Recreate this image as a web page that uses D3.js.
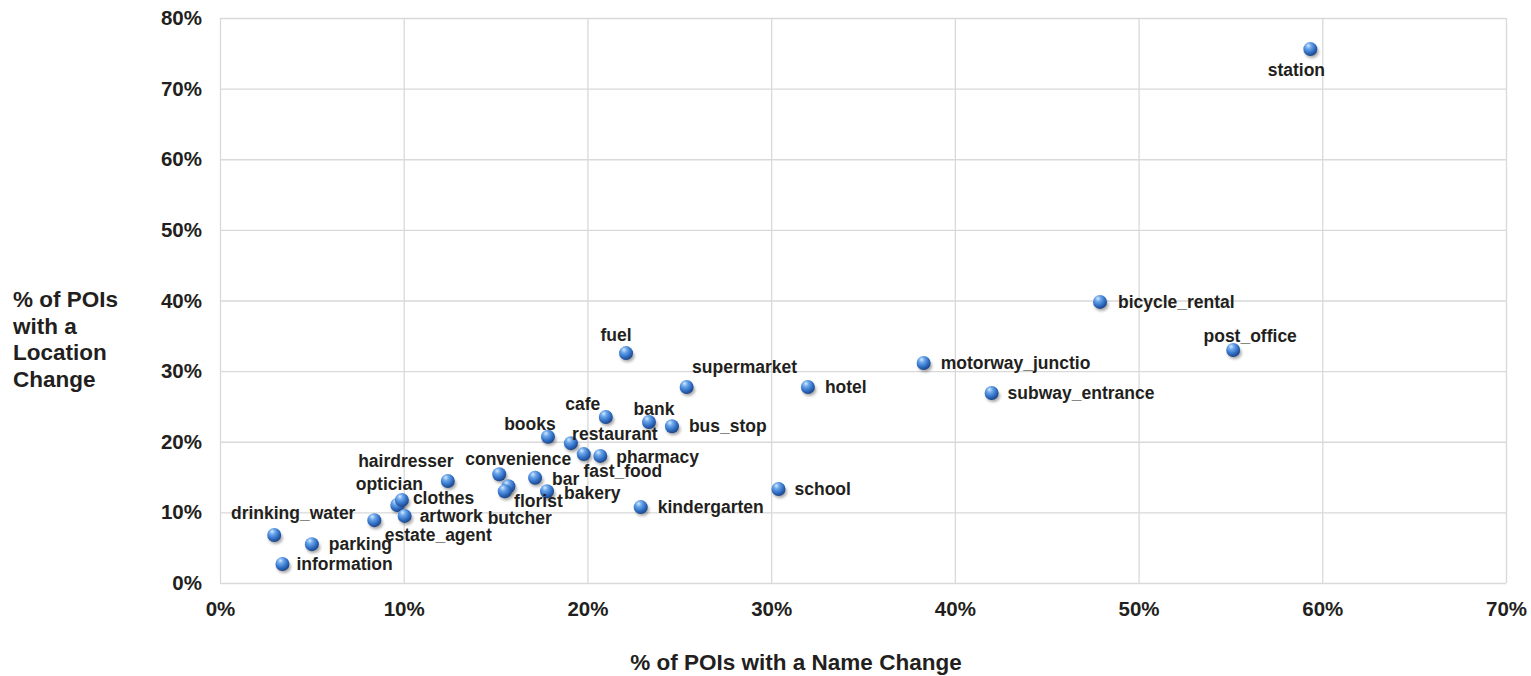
<!DOCTYPE html>
<html><head><meta charset="utf-8">
<script src="https://cdn.jsdelivr.net/npm/d3@7"></script>
<style>body{margin:0;background:#fff;} text{font-family:"Liberation Sans",Arial,sans-serif;font-weight:bold;fill:#231f20;}</style>
</head><body><svg id="c" width="1531" height="676"></svg>
<script>
const names = ["station","bicycle_rental","post_office","motorway_junctio","subway_entrance","hotel","supermarket","fuel","cafe","bank","bus_stop","books","restaurant","fast_food","pharmacy","convenience","bar","florist","butcher","bakery","kindergarten","school","hairdresser","optician","clothes","artwork","estate_agent","drinking_water","parking","information"];
const nameChange = [0.5935,0.479,0.5515,0.383,0.420,0.320,0.254,0.221,0.210,0.2335,0.246,0.1785,0.191,0.198,0.207,0.152,0.1715,0.157,0.155,0.178,0.229,0.304,0.124,0.0965,0.099,0.1005,0.084,0.0295,0.050,0.034];
const locationChange = [0.756,0.398,0.330,0.3115,0.269,0.2775,0.2775,0.3255,0.235,0.228,0.222,0.207,0.198,0.1825,0.180,0.154,0.149,0.137,0.130,0.130,0.1075,0.133,0.1445,0.1105,0.1175,0.095,0.089,0.068,0.055,0.027];
const xTicks = [0,0.1,0.2,0.3,0.4,0.5,0.6,0.7];
const yTicks = [0,0.1,0.2,0.3,0.4,0.5,0.6,0.7,0.8];
const xTitle = "% of POIs with a Name Change";
const yTitle = ["% of POIs","with a","Location","Change"];
// label placement (layout): [anchor, dx, dy]
const labelPlacement = [["middle",-14,21],["start",18,0],["middle",17,-14],["start",17,0],["start",16,0],["start",17,0],["middle",58,-20],["middle",-10,-18],["middle",-23,-13],["middle",5,-13],["start",17,0],["middle",-18,-13],["middle",44,-9],["middle",39,17],["start",16,1],["middle",19,-15],["start",17,1],["middle",30,15],["middle",15,27],["start",17,2],["start",17,0],["start",16,0],["middle",-42,-20],["middle",-8,-21],["start",11,-2],["start",15,0],["middle",64,15],["middle",19,-22],["start",17,0],["start",14,0]];

const svg = d3.select("#c");
const L=220,R=1506,T=18,B=583;
const x = d3.scaleLinear().domain([0,0.7]).range([L,R]);
const y = d3.scaleLinear().domain([0,0.8]).range([B,T]);
const fmt = d3.format(".0%");

const defs = svg.append("defs");
const g = defs.append("radialGradient").attr("id","ball").attr("cx","38%").attr("cy","32%").attr("r","70%").attr("fx","35%").attr("fy","25%");
g.append("stop").attr("offset","0%").attr("stop-color","#d6e8ff");
g.append("stop").attr("offset","30%").attr("stop-color","#6aa6ea");
g.append("stop").attr("offset","70%").attr("stop-color","#2f6cc2");
g.append("stop").attr("offset","100%").attr("stop-color","#1a4385");
const f = defs.append("filter").attr("id","sh").attr("x","-50%").attr("y","-50%").attr("width","200%").attr("height","200%");
f.append("feGaussianBlur").attr("stdDeviation",1.6);

// grid
svg.append("g").attr("transform",`translate(0,${B})`)
  .call(d3.axisBottom(x).tickValues(xTicks).tickSize(-(B-T)).tickFormat(fmt).tickPadding(18))
  .call(a=>a.select(".domain").remove())
  .call(a=>a.selectAll("line").attr("stroke","#d9d9d9").attr("stroke-width",1.3))
  .call(a=>a.selectAll("text").attr("font-size","20.5px").attr("fill","#231f20").attr("font-family","Liberation Sans, Arial").attr("font-weight","bold"));
svg.append("g").attr("transform",`translate(${L},0)`)
  .call(d3.axisLeft(y).tickValues(yTicks).tickSize(-(R-L)).tickFormat(fmt).tickPadding(18))
  .call(a=>a.select(".domain").remove())
  .call(a=>a.selectAll("line").attr("stroke","#d9d9d9").attr("stroke-width",1.3))
  .call(a=>a.selectAll("text").attr("font-size","20.5px").attr("fill","#231f20").attr("font-family","Liberation Sans, Arial").attr("font-weight","bold"));

const data = names.map((n,i)=>({n,x:nameChange[i],y:locationChange[i],p:labelPlacement[i]}));

svg.append("g").selectAll("ellipse").data(data).join("ellipse")
  .attr("cx",d=>x(d.x)+1.5).attr("cy",d=>y(d.y)+3).attr("rx",7).attr("ry",6)
  .attr("fill","#000").attr("opacity",0.35).attr("filter","url(#sh)");
svg.append("g").selectAll("circle").data(data).join("circle")
  .attr("cx",d=>x(d.x)).attr("cy",d=>y(d.y)).attr("r",7)
  .attr("fill","url(#ball)");

svg.append("g").selectAll("text").data(data).join("text")
  .attr("x",d=>x(d.x)+d.p[1]).attr("y",d=>y(d.y)+d.p[2]).attr("dy","0.35em")
  .attr("text-anchor",d=>d.p[0]).attr("font-size","17.5px").text(d=>d.n);

svg.append("text").attr("x",796).attr("y",670).attr("text-anchor","middle").attr("font-size","22.5px").text(xTitle);
svg.append("g").selectAll("text").data(yTitle).join("text")
  .attr("x",13).attr("y",(d,i)=>307+i*26.7).attr("font-size","22.5px").text(d=>d);
</script></body></html>
